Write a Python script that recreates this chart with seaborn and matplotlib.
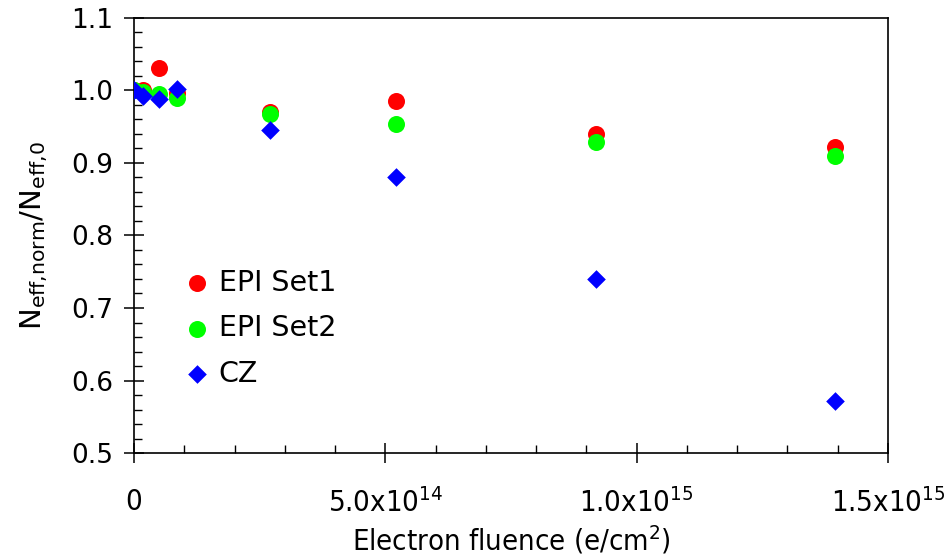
import numpy as np
import pandas as pd
import seaborn as sns
import matplotlib.pyplot as plt
from matplotlib.ticker import MultipleLocator

# Данные
fluence = [0, 1.8e13, 5.0e13, 8.5e13, 2.7e14, 5.22e14, 9.19e14, 1.395e15]
epi_set1 = [1.000, 1.000, 1.031, 0.996, 0.970, 0.985, 0.940, 0.922]
epi_set2 = [1.000, 0.998, 0.995, 0.989, 0.967, 0.954, 0.929, 0.909]
cz = [1.000, 0.993, 0.988, 1.002, 0.945, 0.881, 0.740, 0.572]

x_ticks = [0, 5e14, 1e15, 1.5e15]
x_tick_labels = ['0', r'$\mathregular{5.0x10^{14}}$', r'$\mathregular{1.0x10^{15}}$',
                 r'$\mathregular{1.5x10^{15}}$']

sns.set_theme(style='white')
plt.rcParams['font.family'] = ['DejaVu Sans']
plt.rcParams['text.color'] = 'black'
plt.rcParams['axes.labelcolor'] = 'black'
plt.rcParams['xtick.color'] = 'black'
plt.rcParams['ytick.color'] = 'black'

fig = plt.figure(figsize=(9.53, 5.6), dpi=100)
ax = fig.add_axes([0.1406, 0.191, 0.7912, 0.777])

# Точки: красные, потом зелёные, сверху синие ромбы
sns.scatterplot(x=fluence, y=epi_set1, color='#ff0000', marker='o', s=150,
                linewidth=0, label='EPI Set1', ax=ax, zorder=3)
sns.scatterplot(x=fluence, y=epi_set2, color='#00ff00', marker='o', s=150,
                linewidth=0, label='EPI Set2', ax=ax, zorder=4)
sns.scatterplot(x=fluence, y=cz, color='#0000ff', marker='D', s=90,
                linewidth=0, label='CZ', ax=ax, zorder=5)

ax.set_xlim(0, 1.5e15)
ax.set_ylim(0.5, 1.1)
ax.set_xticks(x_ticks)
ax.set_xticklabels(x_tick_labels, fontsize=21, fontstretch='condensed')
ax.xaxis.set_minor_locator(MultipleLocator(1e14))
ax.yaxis.set_minor_locator(MultipleLocator(0.02))
ax.set_yticks(np.arange(0.5, 1.101, 0.1))
ax.set_yticklabels([f'{v:.1f}' for v in np.arange(0.5, 1.101, 0.1)], fontsize=19)

ax.tick_params(axis='both', which='major', direction='inout', length=14, width=1.1,
               color='black', bottom=True, left=True)
ax.tick_params(axis='both', which='minor', direction='in', length=6, width=1.0,
               color='black', bottom=True, left=True)
ax.tick_params(axis='x', which='major', pad=18)
ax.tick_params(axis='y', which='major', pad=8)

for side in ['left', 'bottom', 'right', 'top']:
    ax.spines[side].set_visible(True)
    ax.spines[side].set_color('black')
    ax.spines[side].set_linewidth(1.2)

ax.set_xlabel(r'Electron fluence (e/cm$\mathregular{^2}$)', fontsize=21,
              fontstretch='condensed', labelpad=4)
ax.set_ylabel(r'$\mathregular{N_{eff{,}norm}/N_{eff{,}0}}$', fontsize=21, labelpad=15)

ax.legend(loc='center left', bbox_to_anchor=(0.065, 0.287), frameon=False,
          fontsize=20.5, handlelength=1.0, handletextpad=0.25, borderpad=0,
          borderaxespad=0, labelspacing=0.62)

fig.savefig('out.png', dpi=100)
